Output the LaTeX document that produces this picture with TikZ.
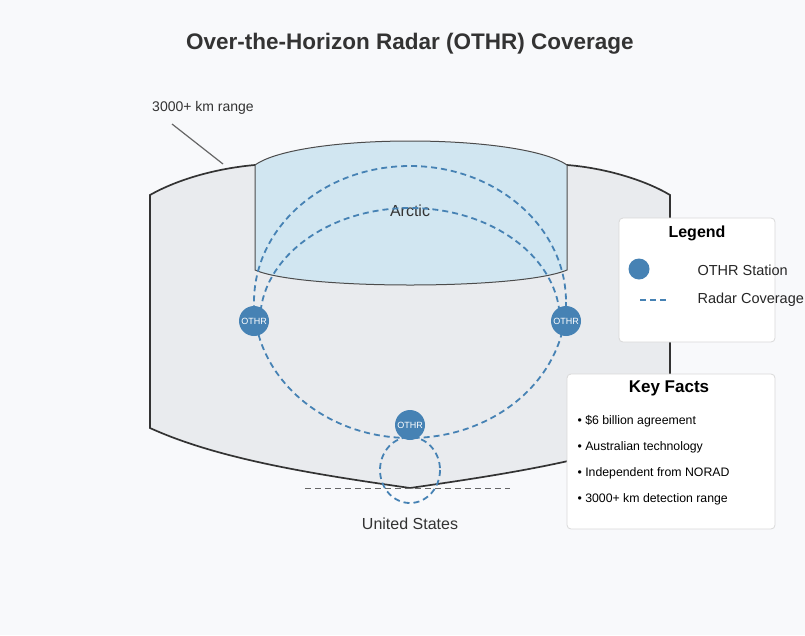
\documentclass[tikz,border=0pt]{standalone}
\usepackage{fontspec}
\setmainfont{Liberation Sans}
\begin{document}
\begin{tikzpicture}[x=1pt,y=-1pt,
  stn/.style={circle,fill=stblue,minimum size=30pt,inner sep=0pt,text=white,font=\fontsize{9}{10}\selectfont},
  cov/.style={draw=stblue,line width=1.8pt,dash pattern=on 6pt off 4pt},
  boxs/.style={draw=black!15,fill=white,rounded corners=4pt,line width=0.8pt}]
\definecolor{stblue}{HTML}{4682B4}
\definecolor{bg}{HTML}{F8F9FB}
\definecolor{land}{HTML}{E9EBEE}
\definecolor{ice}{HTML}{D1E6F1}
\fill[bg] (0,0) rectangle (805,635);
\useasboundingbox (0,0) rectangle (805,635);
\node[font=\bfseries\fontsize{22.5}{26}\selectfont,text=black!80] (title) at (410,44) {Over-the-Horizon Radar (OTHR) Coverage};
% land
\draw[fill=land,draw=black!80,line width=1.7pt] (150,195) .. controls (180,178) and (220,168) .. (255,165)
  -- (567,165) .. controls (605,168) and (645,180) .. (670,195) -- (670,430)
  .. controls (600,460) and (500,475) .. (410,488) .. controls (320,475) and (220,460) .. (150,428) -- cycle;
% arctic
\draw[fill=ice,draw=black!70,line width=1pt] (255,165) .. controls (300,133) and (520,133) .. (567,165)
  -- (567,270) .. controls (520,290) and (300,290) .. (255,270) -- cycle;
\node[font=\fontsize{16}{19}\selectfont,text=black!80] (arctic) at (410,211) {Arctic};
% coverage
\draw[cov] (410,302) ellipse [x radius=156, y radius=136];
\draw[cov] (260,321) arc[start angle=180,end angle=360,x radius=150,y radius=113];
\draw[cov] (410,470) ellipse [x radius=30, y radius=33];
\coordinate (hl) at (305,488); \coordinate (hr) at (510,488);
\draw[black!60,line width=1pt,dash pattern=on 6pt off 4pt] (hl) -- (hr);
\node[stn] (s1) at (254,321) {OTHR};
\node[stn] (s2) at (566,321) {OTHR};
\node[stn] (s3) at (410,425) {OTHR};
\node[font=\fontsize{16}{19}\selectfont,text=black!80] (us) at (410,524) {United States};
\node[font=\fontsize{14}{17}\selectfont,text=black!80] (rng) at (203,108) {3000+ km range};
\coordinate (r1) at (172,124); \coordinate (r2) at (223,164);
\draw[black!60,line width=1.2pt] (r1) -- (r2);
% legend
\draw[boxs] (619,218) rectangle (775,342);
\node[font=\bfseries\fontsize{16}{19}\selectfont] (lg) at (697,233) {Legend};
\node[circle,fill=stblue,minimum size=21pt,inner sep=0pt] (lc) at (639,269) {};
\node[anchor=west,font=\fontsize{14.5}{17}\selectfont,text=black!85] (l1) at (694,270) {OTHR Station};
\coordinate (d1) at (640,300); \coordinate (d2) at (669,300);
\draw[stblue,line width=1.8pt,dash pattern=on 6pt off 4pt] (d1) -- (d2);
\node[anchor=west,font=\fontsize{14.5}{17}\selectfont,text=black!85] (l2) at (694,300) {Radar Coverage};
% key facts
\draw[boxs] (567,374) rectangle (775,529);
\node[font=\bfseries\fontsize{17}{20}\selectfont] (kf) at (669,388) {Key Facts};
\foreach \t [count=\i] in {\$6 billion agreement,Australian technology,Independent from NORAD,3000+ km detection range}
  \node[anchor=west,font=\fontsize{12.3}{14}\selectfont] (k\i) at (574,395+26*\i) {• \t};
\end{tikzpicture}
\end{document}
